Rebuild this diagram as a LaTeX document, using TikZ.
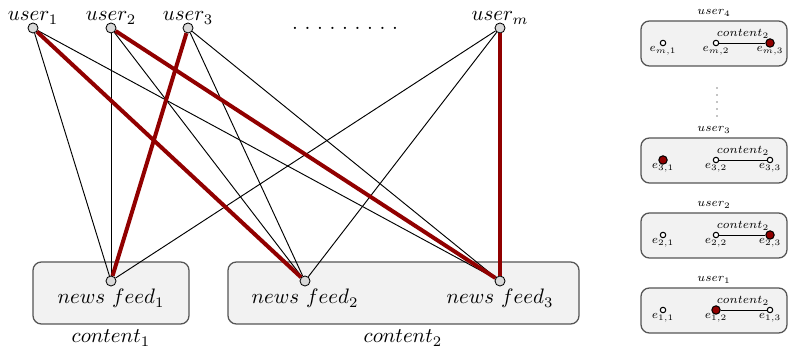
\documentclass[tikz,border=0pt]{standalone}
\usepackage{amsmath}
\usepackage{tikz}
\usepackage{xcolor}
\definecolor{edgered}{RGB}{145,0,0}
\definecolor{panelgray}{RGB}{242,242,242}
\definecolor{framegray}{RGB}{85,85,85}

\begin{document}
\begin{tikzpicture}[x=0.0168cm, y=0.0168cm,
    vertex/.style={circle, draw, fill=gray!30, minimum size=4.8pt, inner sep=0pt},
    slot/.style={circle, draw, fill=white, minimum size=2.6pt, inner sep=0pt, line width=0.5pt},
    hit/.style={circle, draw, fill=edgered, minimum size=4pt, inner sep=0pt, line width=0.5pt},
    panel/.style={draw=framegray, fill=panelgray, rounded corners=4pt, line width=0.6pt},
    link/.style={line width=0.45pt},
    chosen/.style={edgered, line width=1.9pt},
    tinytext/.style={font=\scriptsize, scale=0.8, transform shape, inner sep=0pt, anchor=base}]
    \useasboundingbox (0,0) rectangle (789,348);

    % Content groups
    \draw[panel] (33,24) rectangle (189,86);
    \draw[panel] (228,24) rectangle (579,86);
    \node[anchor=base, inner sep=0pt] (c1) at (111,5) {$content_1$};
    \node[anchor=base, inner sep=0pt] (c2) at (403,5) {$content_2$};

    % Users
    \node[vertex] (u1) at (33,320) {};
    \node[vertex] (u2) at (111,320) {};
    \node[vertex] (u3) at (188,320) {};
    \node[vertex] (um) at (500,320) {};
    \node[anchor=base, inner sep=0pt] (u1t) at (33,327) {$user_1$};
    \node[anchor=base, inner sep=0pt] (u2t) at (111,327) {$user_2$};
    \node[anchor=base, inner sep=0pt] (u3t) at (188,327) {$user_3$};
    \node[anchor=base, inner sep=0pt] (umt) at (500,327) {$user_m$};
    \node[anchor=base, inner sep=0pt] (udots) at (345,318)
        {.\hspace{3.2pt}.\hspace{3.2pt}.\hspace{3.2pt}.\hspace{3.2pt}.\hspace{3.2pt}.\hspace{3.2pt}.\hspace{3.2pt}.\hspace{3.2pt}.};

    % News feeds
    \node[vertex] (f1) at (111,67) {};
    \node[vertex] (f2) at (305,67) {};
    \node[vertex] (f3) at (500,67) {};
    \node[anchor=base, inner sep=0pt] (f1t) at (111,44) {$news\ feed_1$};
    \node[anchor=base, inner sep=0pt] (f2t) at (305,44) {$news\ feed_2$};
    \node[anchor=base, inner sep=0pt] (f3t) at (500,44) {$news\ feed_3$};

    % Candidate edges
    \draw[link] (u1) -- (f1);
    \draw[link] (u1) -- (f3);
    \draw[link] (u2) -- (f1);
    \draw[link] (u2) -- (f2);
    \draw[link] (u3) -- (f2);
    \draw[link] (u3) -- (f3);
    \draw[link] (um) -- (f1);
    \draw[link] (um) -- (f2);

    % Chosen edges
    \draw[chosen] (u1) -- (f2);
    \draw[chosen] (u2) -- (f3);
    \draw[chosen] (u3) -- (f1);
    \draw[chosen] (um) -- (f3);

    % Per-user views
    \begin{scope}[shift={(641,282)}]
        \draw[panel] (0,0) rectangle (146,45);
        \node[slot] (em1) at (22,23) {};
        \node[slot] (em2) at (75,23) {};
        \node[hit] (em3) at (129,23) {};
        \draw[link] (em2) -- (em3);
        \node[tinytext] (em1t) at (22,14) {$e_{m,1}$};
        \node[tinytext] (em2t) at (75,14) {$e_{m,2}$};
        \node[tinytext] (em3t) at (129,14) {$e_{m,3}$};
        \node[tinytext] (emc) at (102,29) {$content_2$};
        \node[tinytext] (emu) at (73,51) {$user_4$};
    \end{scope}

    % vertical dots between the views
    \foreach \y in {232,239,246,253,260}
        \fill (717,\y) circle (0.35pt);

    \begin{scope}[shift={(641,165)}]
        \draw[panel] (0,0) rectangle (146,45);
        \node[hit] (e31) at (22,23) {};
        \node[slot] (e32) at (75,23) {};
        \node[slot] (e33) at (129,23) {};
        \draw[link] (e32) -- (e33);
        \node[tinytext] (e31t) at (22,14) {$e_{3,1}$};
        \node[tinytext] (e32t) at (75,14) {$e_{3,2}$};
        \node[tinytext] (e33t) at (129,14) {$e_{3,3}$};
        \node[tinytext] (e3c) at (102,29) {$content_2$};
        \node[tinytext] (e3u) at (73,51) {$user_3$};
    \end{scope}

    \begin{scope}[shift={(641,90)}]
        \draw[panel] (0,0) rectangle (146,45);
        \node[slot] (e21) at (22,23) {};
        \node[slot] (e22) at (75,23) {};
        \node[hit] (e23) at (129,23) {};
        \draw[link] (e22) -- (e23);
        \node[tinytext] (e21t) at (22,14) {$e_{2,1}$};
        \node[tinytext] (e22t) at (75,14) {$e_{2,2}$};
        \node[tinytext] (e23t) at (129,14) {$e_{2,3}$};
        \node[tinytext] (e2c) at (102,29) {$content_2$};
        \node[tinytext] (e2u) at (73,51) {$user_2$};
    \end{scope}

    \begin{scope}[shift={(641,15)}]
        \draw[panel] (0,0) rectangle (146,45);
        \node[slot] (e11) at (22,23) {};
        \node[hit] (e12) at (75,23) {};
        \node[slot] (e13) at (129,23) {};
        \draw[link] (e12) -- (e13);
        \node[tinytext] (e11t) at (22,14) {$e_{1,1}$};
        \node[tinytext] (e12t) at (75,14) {$e_{1,2}$};
        \node[tinytext] (e13t) at (129,14) {$e_{1,3}$};
        \node[tinytext] (e1c) at (102,29) {$content_2$};
        \node[tinytext] (e1u) at (73,51) {$user_1$};
    \end{scope}
\end{tikzpicture}
\end{document}
